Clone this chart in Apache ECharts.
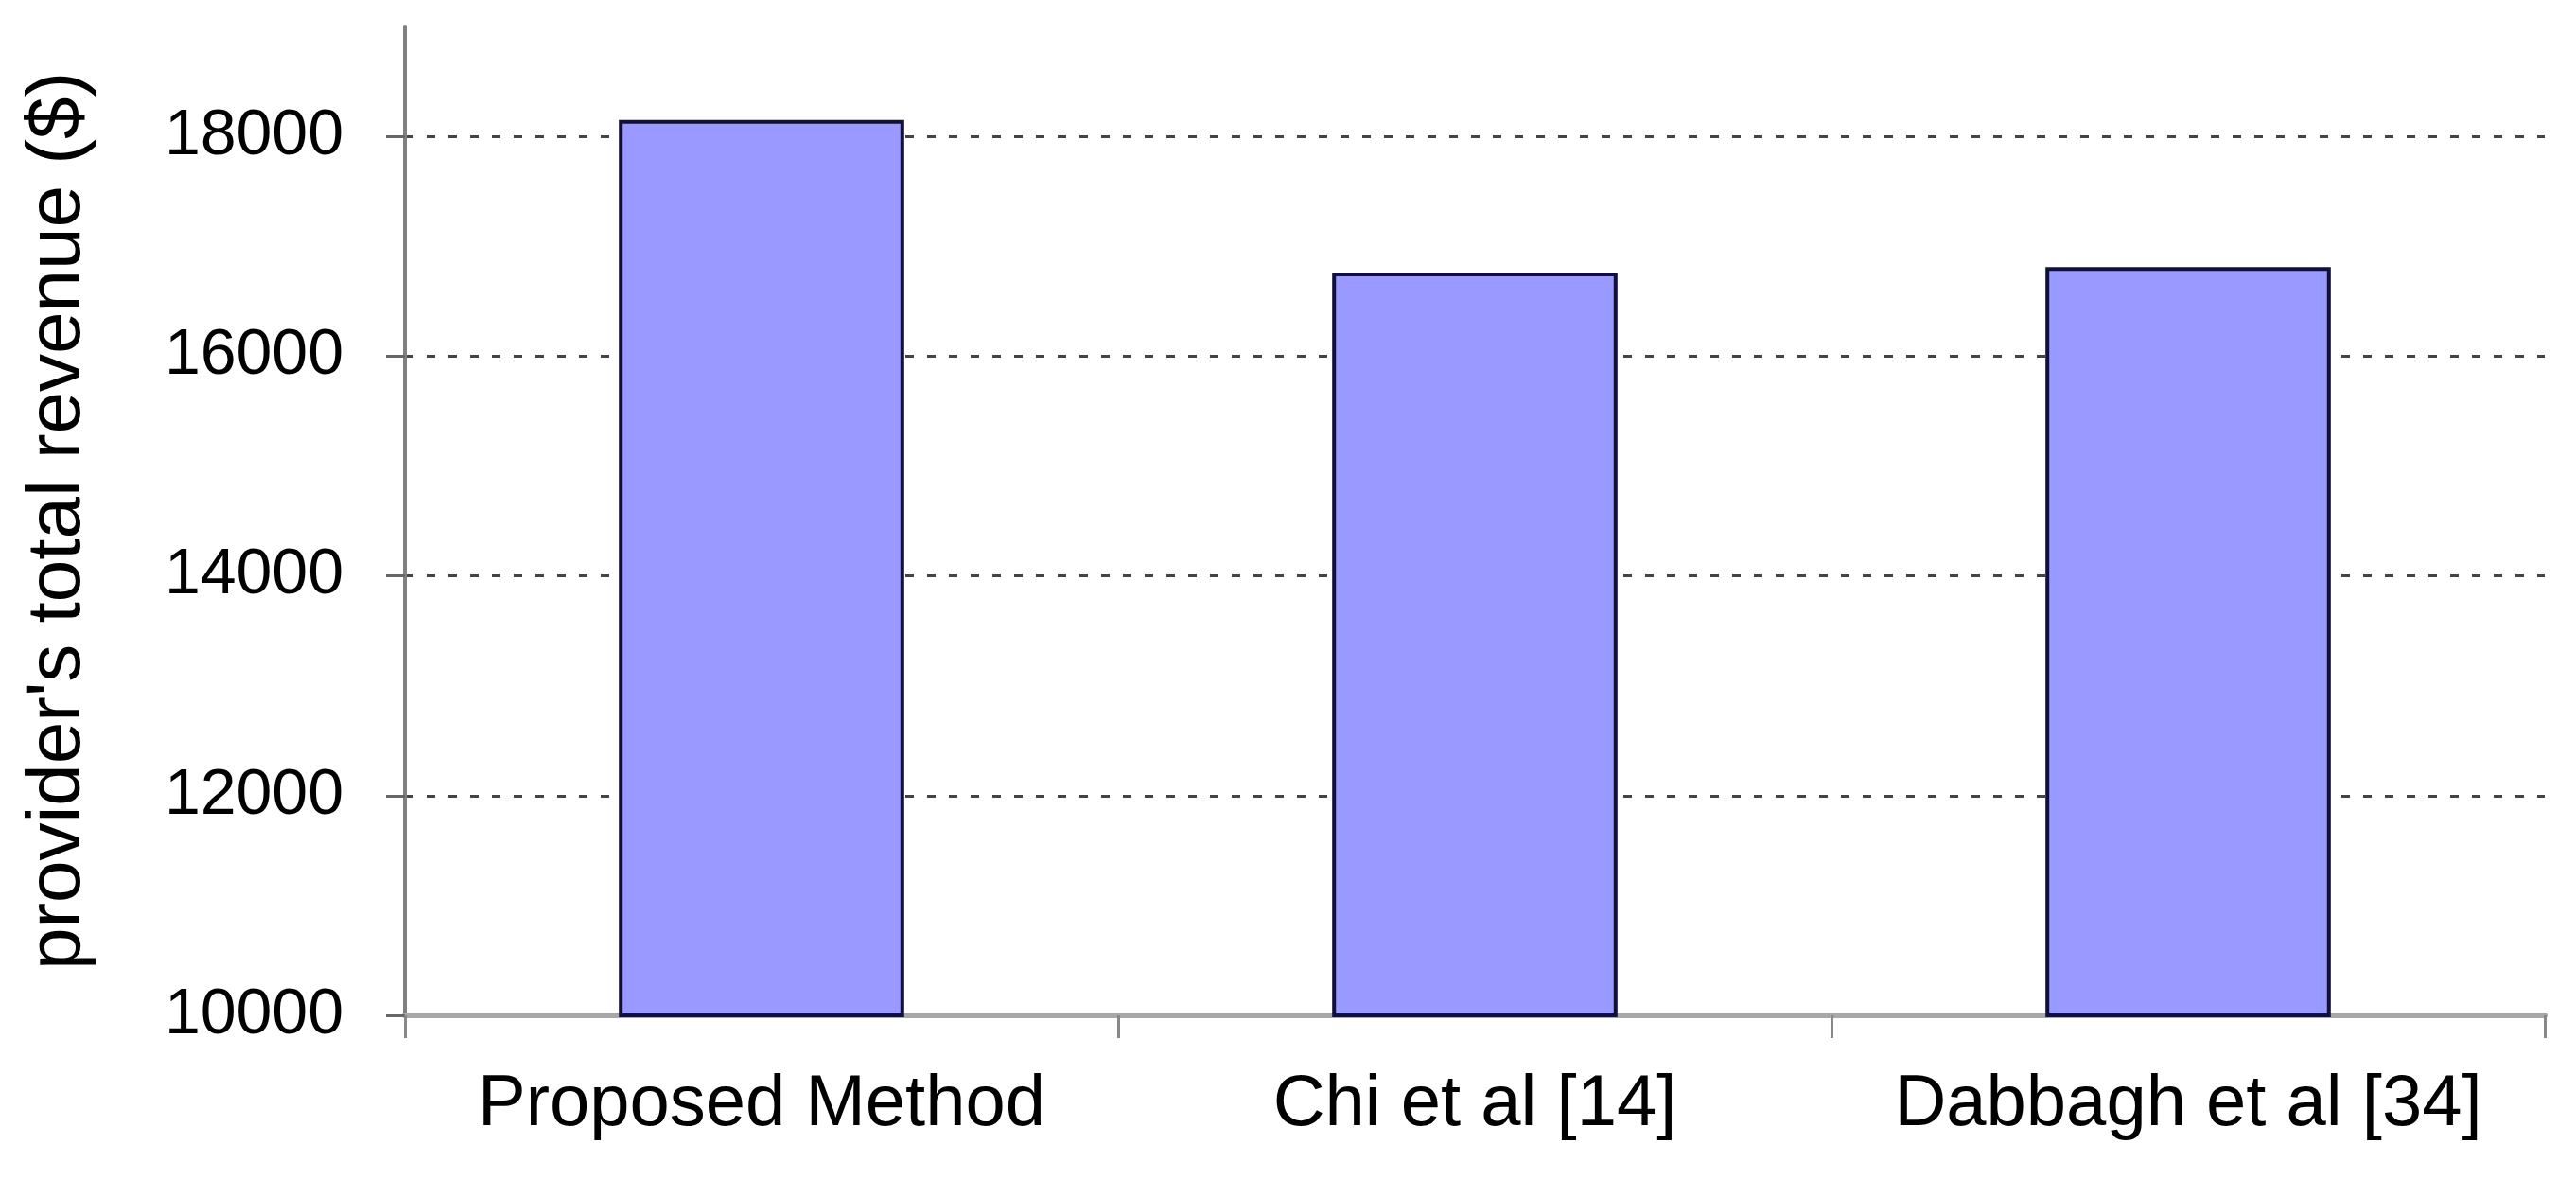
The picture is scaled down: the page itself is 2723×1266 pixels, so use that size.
<!DOCTYPE html>
<html>
<head>
<meta charset="utf-8">
<script src="https://cdn.jsdelivr.net/npm/echarts@6/dist/echarts.min.js"></script>
<style>
  html, body { margin: 0; padding: 0; background: #fff; }
  #chart { width: 2723px; height: 1266px; }
</style>
</head>
<body>
<div id="chart"></div>
<script>
const categories = ["Proposed Method", "Chi et al [14]", "Dabbagh et al [34]"];
const revenue = [18150, 16760, 16810];
const yTicks = [10000, 12000, 14000, 16000, 18000];
const yMin = 10000;
const yMax = 19000;
const yStep = 2000;

const chart = echarts.init(document.getElementById("chart"));

const option = {
  animation: false,
  backgroundColor: "#fff",
  textStyle: { fontFamily: "Liberation Sans, Arial, sans-serif" },
  grid: {
    left: 428,
    right: 33,
    top: 28,
    bottom: 193,
    containLabel: false,
    outerBoundsMode: "none",
  },
  xAxis: {
    type: "category",
    data: categories,
    boundaryGap: true,
    axisLine: {
      lineStyle: { color: "#a8a8a8", width: 6 },
    },
    axisTick: {
      show: true,
      interval: 0,
      length: 24,
      lineStyle: { color: "#888", width: 3 },
    },
    axisLabel: {
      color: "#000",
      fontSize: 76,
      margin: 57,
      interval: 0,
      hideOverlap: false,
    },
  },
  yAxis: {
    type: "value",
    min: yMin,
    max: yMax,
    interval: yStep,
    name: "provider's total revenue ($)",
    nameLocation: "middle",
    nameGap: 326,
    nameMoveOverlap: false,
    nameTextStyle: {
      color: "#000",
      fontSize: 80,
    },
    axisLine: {
      show: true,
      lineStyle: { color: "#808080", width: 4 },
    },
    axisTick: {
      show: true,
      length: 20,
      customValues: yTicks,
      lineStyle: { color: "#666", width: 3 },
    },
    axisLabel: {
      color: "#000",
      fontSize: 68,
      margin: 65,
      customValues: yTicks,
      formatter: (v) => String(v),
    },
    splitLine: {
      show: true,
      showMinLine: false,
      showMaxLine: true,
      lineStyle: { color: "#444", width: 3, type: [9, 14] },
    },
  },
  series: [
    {
      type: "bar",
      data: revenue,
      barWidth: "40%",
      itemStyle: {
        color: "#9999ff",
        borderColor: "#10103a",
        borderWidth: 4,
      },
    },
  ],
};

chart.setOption(option);
</script>
</body>
</html>
